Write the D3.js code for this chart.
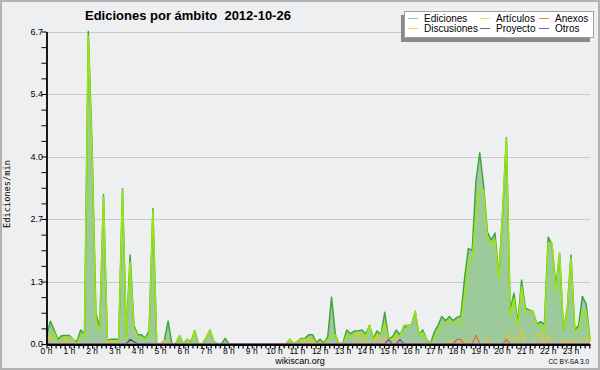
<!DOCTYPE html>
<html><head><meta charset="utf-8">
<script src="https://cdn.jsdelivr.net/npm/d3@7"></script>
<style>
html,body{margin:0;padding:0;background:#eeeff1;}
svg{display:block;}
text{font-family:"Liberation Sans",Arial,sans-serif;fill:#000;}
</style>
</head><body>
<svg id="c" width="600" height="370"></svg>
<script>
// ---- data (values per 10-minute slot, 0:00 .. 23:50) ----
const title = "Ediciones por ámbito  2012-10-26";
const yAxisLabel = "Ediciones/min";
const hourLabels = ["0 h","1 h","2 h","3 h","4 h","5 h","6 h","7 h","8 h","9 h","10 h","11 h",
  "12 h","13 h","14 h","15 h","16 h","17 h","18 h","19 h","20 h","21 h","22 h","23 h"];
const yTickValues = [0, 1.34, 2.68, 4.02, 5.36, 6.7];
const yTickLabels = ["0.0","1.3","2.7","4.0","5.4","6.7"];
const seriesNames = ["Ediciones","Artículos","Anexos","Discusiones","Proyecto","Otros"];

const ediciones = [
  0.17,0.49,0.30,0.10,0.18,0.18,   // 0h
  0.18,0.10,0.05,0.30,0.22,6.70,   // 1h
  4.20,0.65,0.35,3.20,0.08,0.10,   // 2h
  0.10,0.10,3.33,0.16,1.91,0.40,   // 3h
  0.20,0.20,0.12,0.28,2.90,0.00,   // 4h
  0.00,0.08,0.49,0.00,0.00,0.18,   // 5h
  0.00,0.10,0.04,0.29,0.00,0.00,   // 6h
  0.13,0.30,0.06,0.00,0.00,0.12,   // 7h
  0,0,0,0,0,0,                     // 8h
  0,0,0,0,0,0,                     // 9h
  0,0,0,0,0.10,0.00,               // 10h
  0.05,0.12,0.12,0.20,0.20,0.03,   // 11h
  0.10,0.02,0.15,1.00,0.20,0.00,   // 12h
  0.02,0.30,0.22,0.28,0.28,0.30,   // 13h
  0.22,0.40,0.12,0.28,0.20,0.68,   // 14h
  0.12,0.15,0.30,0.20,0.35,0.40,   // 15h
  0.40,0.70,0.20,0.30,0.10,0.00,   // 16h
  0.25,0.40,0.59,0.50,0.59,0.50,   // 17h
  0.57,0.60,1.40,2.05,2.00,3.50,   // 18h
  4.10,3.40,2.40,2.23,2.38,1.45,   // 19h
  2.80,4.42,0.73,1.09,0.45,1.37,   // 20h
  0.77,0.73,0.70,0.43,0.48,0.42,   // 21h
  2.29,2.13,1.23,1.95,0.30,0.73,   // 22h
  1.91,0.30,0.40,1.02,0.85,0.09    // 23h
];
const articulos = [
  0.05,0.20,0.25,0.05,0.10,0.15,   // 0h
  0.15,0.10,0.00,0.20,0.15,6.60,   // 1h
  4.00,0.50,0.30,3.15,0.05,0.05,   // 2h
  0.05,0.05,3.30,0.10,1.75,0.35,   // 3h
  0.15,0.15,0.10,0.20,2.85,0.00,   // 4h
  0.00,0.00,0.00,0.00,0.00,0.18,   // 5h
  0.00,0.10,0.00,0.29,0.00,0.00,   // 6h
  0.13,0.30,0.05,0.00,0.00,0.00,   // 7h
  0,0,0,0,0,0,                     // 8h
  0,0,0,0,0,0,                     // 9h
  0,0,0,0,0.10,0.00,               // 10h
  0.05,0.10,0.10,0.12,0.12,0.00,   // 11h
  0.05,0.00,0.10,0.15,0.20,0.00,   // 12h
  0.00,0.20,0.15,0.20,0.20,0.20,   // 13h
  0.15,0.40,0.10,0.20,0.20,0.45,   // 14h
  0.10,0.10,0.20,0.15,0.40,0.40,   // 15h
  0.40,0.70,0.20,0.25,0.10,0.00,   // 16h
  0.10,0.30,0.41,0.45,0.48,0.48,   // 17h
  0.42,0.42,1.05,1.80,1.80,2.80,   // 18h
  3.30,3.30,2.30,2.16,2.23,1.41,   // 19h
  2.80,4.40,0.60,0.97,0.37,1.23,   // 20h
  0.70,0.70,0.70,0.41,0.41,0.23,   // 21h
  2.16,2.16,1.09,1.95,0.30,0.70,   // 22h
  1.84,0.27,0.30,0.70,0.70,0.05    // 23h
];
const anexos = [
  0,0,0,0,0,0,  0,0,0,0,0,0,  0,0,0,0,0,0,  0,0,0,0,0,0,   // 0h-3h
  0,0,0,0,0,0,  0,0,0,0,0,0,  0,0,0,0,0,0,  0,0,0,0,0,0,   // 4h-7h
  0,0,0,0,0,0,  0,0,0,0,0,0,  0,0,0,0,0,0,  0,0,0,0,0,0,   // 8h-11h
  0,0,0,0,0,0,  0,0,0,0,0,0,  0,0,0,0,0,0,  0,0,0,0,0,0,   // 12h-15h
  0,0,0,0,0,0,                                             // 16h
  0,0,0,0,0,0,                                             // 17h
  0.10,0.10,0,0,0,0.19,                                    // 18h
  0,0,0,0,0,0,                                             // 19h
  0,0.10,0,0,0,0,                                          // 20h
  0,0,0,0,0,0,  0,0,0,0,0,0,  0,0,0,0,0,0                  // 21h-23h
];
const discusiones = [
  0,0.19,0,0,0,0.10,      // 0h
  0,0,0,0,0,0,            // 1h
  0,0,0,0,0,0.08,         // 2h
  0,0,0,0,0,0,            // 3h
  0,0,0,0,0,0,            // 4h
  0,0.08,0,0,0,0,         // 5h
  0,0,0,0,0,0,            // 6h
  0,0,0,0,0,0,            // 7h
  0,0,0,0,0,0,            // 8h
  0,0,0,0,0,0,            // 9h
  0,0,0,0,0,0,            // 10h
  0,0,0.08,0,0.08,0,      // 11h
  0,0,0,0,0,0,            // 12h
  0,0,0,0,0.26,0,         // 13h
  0.10,0,0,0.20,0,0.15,   // 14h
  0,0,0.15,0,0,0,         // 15h
  0,0,0,0,0,0,            // 16h
  0,0,0,0,0.08,0,         // 17h
  0,0,0.08,0,0,0,         // 18h
  0,0,0.10,0,0,0,         // 19h
  0,0,0.20,0.15,0,0.30,   // 20h
  0,0,0,0.20,0.20,0,      // 21h
  0.20,0,0,0,0.10,0,      // 22h
  0.10,0,0,0.10,0.15,0    // 23h
];
const proyecto = [
  0,0,0,0,0,0,  0,0,0,0,0,0,  0,0,0,0,0,0,  0,0,0,0,0.10,0.05,   // 0h-3h
  0,0,0,0,0,0,  0,0,0,0,0,0,  0,0,0,0,0,0,  0,0,0,0,0,0,         // 4h-7h
  0,0,0,0,0,0,  0,0,0,0,0,0,  0,0,0,0,0,0,  0,0,0,0,0,0,         // 8h-11h
  0,0,0,0,0,0,  0,0,0,0,0,0,  0,0,0,0,0,0,  0,0,0,0,0,0,         // 12h-15h
  0,0,0,0,0,0,  0,0,0,0,0,0,  0,0,0,0,0,0,  0,0,0,0,0,0,         // 16h-19h
  0,0,0,0,0,0,  0,0,0,0,0,0,  0,0,0,0,0,0,  0,0,0,0,0,0          // 20h-23h
];
const otros = [
  0,0,0,0,0,0,  0,0,0,0,0,0,  0,0,0,0,0,0,  0,0,0,0,0,0,         // 0h-3h
  0,0,0,0,0,0,  0,0,0,0,0,0,  0,0,0,0,0,0,  0,0,0,0,0,0,         // 4h-7h
  0,0,0,0,0,0,  0,0,0,0,0,0,  0,0,0,0,0,0,  0,0,0,0,0,0,         // 8h-11h
  0,0,0,0,0,0,  0,0,0,0,0,0,  0,0,0,0,0,0,  0.10,0,0,0.10,0,0,   // 12h-15h
  0,0,0,0,0,0,  0,0,0,0,0,0,  0,0,0,0,0,0,  0,0,0,0,0,0,         // 16h-19h
  0,0,0,0,0,0,  0,0,0,0,0,0,  0,0,0,0,0,0,  0,0,0,0,0,0          // 20h-23h
];
const slotMinutes = 10;

// ---- drawing ----
const svg = d3.select("#c");
const W = 600, H = 370;
const x = d3.scaleLinear().domain([0, 1430]).range([46.5, 590]);
const y = d3.scaleLinear().domain([0, 6.7]).range([344, 31.5]);

svg.append("rect").attr("x",1).attr("y",1).attr("width",W-2).attr("height",H-2)
  .attr("fill","#eeeff1").attr("stroke","#b2b2b2").attr("stroke-width",2);

// grid
svg.append("g").selectAll("line").data(yTickValues.slice(1)).join("line")
  .attr("x1",46.5).attr("x2",590).attr("y1",d=>Math.round(y(d))+0.5).attr("y2",d=>Math.round(y(d))+0.5)
  .attr("stroke","#c9c9c9").attr("stroke-width",1);

const pts = arr => arr.map((v,i)=>({t:i*slotMinutes, v}));
const area = d3.area().x(d=>x(d.t)).y0(y(0)).y1(d=>y(d.v));
const line = d3.line().x(d=>x(d.t)).y(d=>y(d.v));

svg.append("path").datum(pts(ediciones)).attr("d",area).attr("fill","#9dca9a");
svg.append("path").datum(pts(ediciones)).attr("d",line).attr("fill","none")
  .attr("stroke","#41a53f").attr("stroke-width",1.5).attr("stroke-linejoin","round");
svg.append("path").datum(pts(articulos)).attr("d",line).attr("fill","none")
  .attr("stroke","#9be610").attr("stroke-width",1.5).attr("stroke-linejoin","round");

const small = [[discusiones,"#efc22a"],[anexos,"#e8682a"],[proyecto,"#4a4a4a"],[otros,"#8040e0"]];
small.forEach(([arr,col])=>{
  svg.append("path").datum(pts(arr)).attr("d",line).attr("fill","none")
    .attr("stroke",col).attr("stroke-width",1.2).attr("stroke-linejoin","round");
});

// axes
const xMinor = d3.range(0, 1431, 12);
const xAxis = d3.axisBottom(x).tickValues(xMinor).tickSize(4).tickFormat("").tickSizeOuter(0);
const gx = svg.append("g").attr("transform","translate(0,344.5)").call(xAxis);
gx.select(".domain").attr("stroke","#000").attr("stroke-width",2);
gx.selectAll(".tick line").attr("stroke","#000").attr("stroke-width",1.2);

svg.append("g").selectAll("text").data(hourLabels).join("text")
  .attr("x",(d,i)=>x(i*60)).attr("y",354).attr("text-anchor","middle")
  .attr("font-size","8.5px").text(d=>d);

const yMinor = d3.range(0, 21).map(k=>k*6.7/20);
const yAxis = d3.axisLeft(y).tickValues(yMinor).tickSize(5).tickFormat("").tickSizeOuter(0);
const gy = svg.append("g").attr("transform","translate(46.5,0)").call(yAxis);
gy.select(".domain").attr("stroke","#000").attr("stroke-width",1.8);
gy.selectAll(".tick line").attr("stroke","#000").attr("stroke-width",1);

svg.append("g").selectAll("text").data(yTickValues).join("text")
  .attr("x",43).attr("y",d=>y(d)+3).attr("text-anchor","end")
  .attr("font-size","9px").text((d,i)=>yTickLabels[i]);

// y label
svg.append("text").attr("transform","translate(10,194) rotate(-90)")
  .attr("text-anchor","middle")
  .attr("font-size","9.5px").attr("textLength",68).attr("lengthAdjust","spacingAndGlyphs")
  .style("font-family","'DejaVu Sans Mono',monospace").text(yAxisLabel);

// title
svg.append("text").attr("x",85).attr("y",20).attr("font-size","13px")
  .attr("font-weight","bold").style("white-space","pre").attr("xml:space","preserve").text(title);

// legend
const lg = svg.append("g");
lg.append("rect").attr("x",401).attr("y",15).attr("width",189).attr("height",27).attr("fill","#8a8a8a");
lg.append("rect").attr("x",404.5).attr("y",11.5).attr("width",189).attr("height",26)
  .attr("fill","#fff").attr("stroke","#a0a0a0").attr("stroke-width",1);
const legendColors = ["#8fcf8f","#cdef5a","#ee7a4a","#f2d050","#666666","#9050e8"];
const legendPos = [[408,22],[480,22],[539,22],[408,32],[480,32],[539,32]];
seriesNames.forEach((name,k)=>{
  const [lx,ly] = legendPos[k];
  lg.append("line").attr("x1",lx).attr("x2",lx+10).attr("y1",ly-3.5).attr("y2",ly-3.5)
    .attr("stroke",legendColors[k]).attr("stroke-width",1);
  lg.append("text").attr("x",lx+16).attr("y",ly).attr("font-size","10px").text(name);
});

// footer
svg.append("text").attr("x",300).attr("y",364).attr("text-anchor","middle")
  .attr("font-size","9px").text("wikiscan.org");
svg.append("text").attr("x",589).attr("y",364).attr("text-anchor","end")
  .attr("font-size","6.5px").text("CC BY-SA 3.0");
</script>
</body></html>
